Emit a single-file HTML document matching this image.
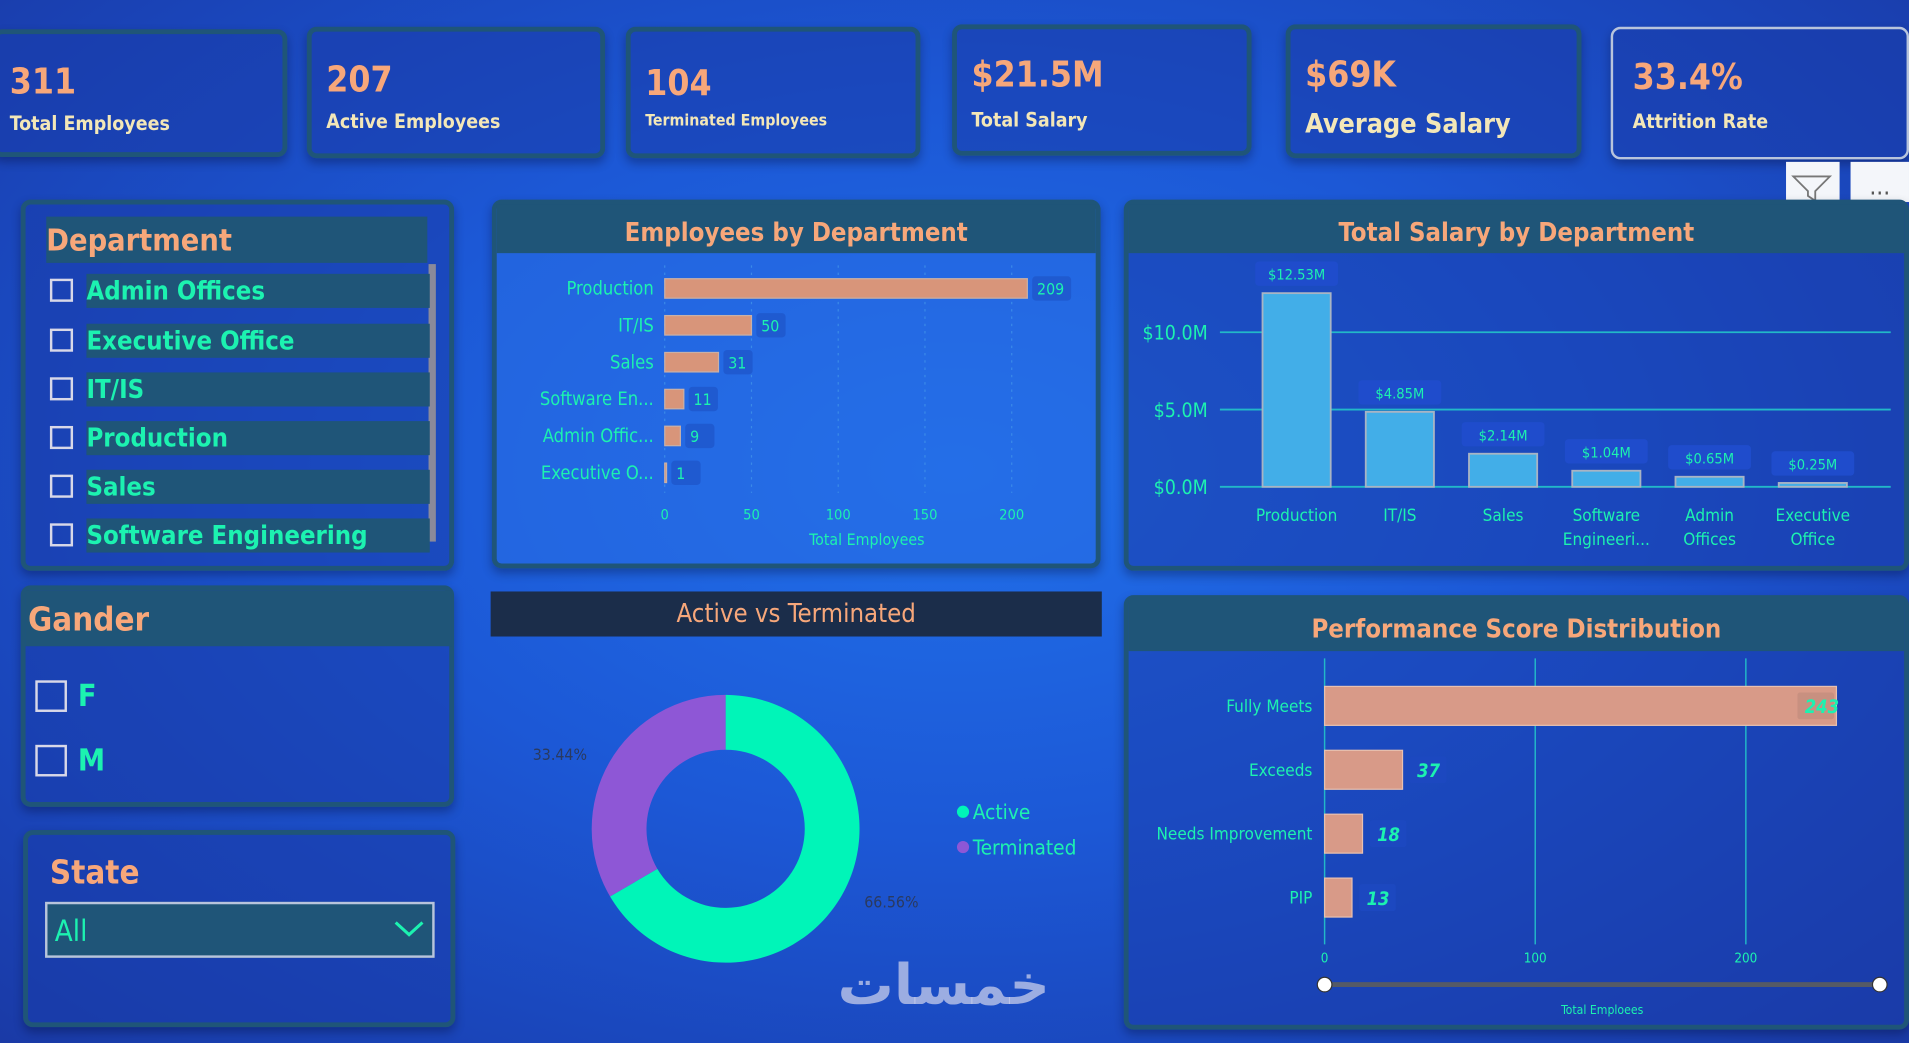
<!DOCTYPE html>
<html><head><meta charset="utf-8">
<style>
html,body{margin:0;padding:0;width:1909px;height:1043px;overflow:hidden;background:#1a48c8;}
#stage{position:absolute;left:0;top:0;width:1568px;height:857px;transform:scale(1.21747,1.21704);transform-origin:0 0;
background:radial-gradient(ellipse at 50% 45%,#2170ea 0%,#1c58d6 45%,#1a44b8 80%,#1a3aa6 100%);
font-family:"DejaVu Sans Condensed","DejaVu Sans","Liberation Sans",sans-serif;}
.card{position:absolute;border:4px solid #1f5578;border-radius:8px;background:rgba(25,60,170,0.55);box-sizing:border-box;box-shadow:0 4px 8px rgba(0,0,30,.3);}
.kv{position:absolute;left:6px;top:22px;color:#f7a77a;font-size:29px;font-weight:bold;}
.kl{position:absolute;left:6px;top:64px;color:#f3e7b8;font-size:16px;font-weight:bold;}
.hdr{position:absolute;background:#1f5578;color:#f7a77a;font-weight:bold;}
.item{position:absolute;left:20px;height:30px;width:312px;}
.cb{position:absolute;left:0;top:4px;width:19px;height:19px;border:2px solid #d8d8e8;box-sizing:border-box;}
.it{position:absolute;left:30px;top:0;right:0;height:28px;background:#1f5578;color:#1cf2b0;font-size:21px;font-weight:bold;line-height:28px;}
svg text{font-family:"DejaVu Sans Condensed","DejaVu Sans",sans-serif;}
</style></head><body>
<div id="stage">
 <div class="card" style="left:-6px;top:24px;width:242px;height:105px"><div class="kv" style="left:10px">311</div><div class="kl" style="left:10px">Total Employees</div></div>
 <div class="card" style="left:252px;top:22px;width:245px;height:108px"><div class="kv" style="left:12px">207</div><div class="kl" style="left:12px">Active Employees</div></div>
 <div class="card" style="left:514px;top:22px;width:242px;height:108px"><div class="kv" style="left:12px;top:25px">104</div><div class="kl" style="left:12px;top:66px;font-size:13px">Terminated Employees</div></div>
 <div class="card" style="left:782px;top:20px;width:246px;height:108px"><div class="kv" style="left:12px;top:20px">$21.5M</div><div class="kl" style="left:12px;top:65px">Total Salary</div></div>
 <div class="card" style="left:1056px;top:20px;width:243px;height:110px"><div class="kv" style="left:12px;top:20px">$69K</div><div class="kl" style="left:12px;top:66px;font-size:22px">Average Salary</div></div>
 <div class="card" style="left:1323px;top:22px;width:245px;height:109px;border-color:#b8c4dc;border-width:2px"><div class="kv" style="left:16px;top:22px">33.4%</div><div class="kl" style="left:16px;top:66px">Attrition Rate</div></div>
 <div style="position:absolute;left:1467px;top:133px;width:44px;height:33px;background:#f4f6fa"><svg width="44" height="33"><path d="M6 12 L36 12 L24 24 L24 32 L18 28 L18 24 Z" fill="none" stroke="#777" stroke-width="1.5"/></svg></div>
 <div style="position:absolute;left:1520px;top:133px;width:48px;height:33px;background:#f4f6fa;color:#555;font-size:20px;text-align:center;line-height:40px">...</div>

 <div class="card" style="left:17px;top:164px;width:356px;height:305px">
  <div class="hdr" style="left:17px;top:10px;width:313px;height:38px;font-size:25px;line-height:40px">Department</div>
  <div style="position:absolute;left:331px;top:49px;width:6px;height:228px;background:#8a8a9a"></div>
  <div class="item" style="top:57px"><div class="cb"></div><div class="it">Admin Offices</div></div>
  <div class="item" style="top:98px"><div class="cb"></div><div class="it">Executive Office</div></div>
  <div class="item" style="top:138px"><div class="cb"></div><div class="it">IT/IS</div></div>
  <div class="item" style="top:178px"><div class="cb"></div><div class="it">Production</div></div>
  <div class="item" style="top:218px"><div class="cb"></div><div class="it">Sales</div></div>
  <div class="item" style="top:258px"><div class="cb"></div><div class="it">Software Engineering</div></div>
 </div>
 <div class="card" style="left:17px;top:481px;width:356px;height:182px">
  <div class="hdr" style="left:0;top:0;width:348px;height:46px;font-size:27px;line-height:50px;padding-left:2px">Gander</div>
  <div style="position:absolute;left:8px;top:74px;width:26px;height:26px;border:2px solid #d8d8e8;box-sizing:border-box"></div>
  <div style="position:absolute;left:43px;top:72px;color:#1cf2b0;font-size:25px;font-weight:bold">F</div>
  <div style="position:absolute;left:8px;top:127px;width:26px;height:26px;border:2px solid #d8d8e8;box-sizing:border-box"></div>
  <div style="position:absolute;left:43px;top:125px;color:#1cf2b0;font-size:25px;font-weight:bold">M</div>
 </div>
 <div class="card" style="left:19px;top:682px;width:355px;height:162px">
  <div style="position:absolute;left:18px;top:16px;color:#f7a77a;font-size:27px;font-weight:bold">State</div>
  <div style="position:absolute;left:14px;top:55px;width:320px;height:46px;border:2px solid #b8c4dc;background:#1f5578;box-sizing:border-box">
   <span style="position:absolute;left:6px;top:8px;color:#1cf2b0;font-size:24px">All</span>
   <svg style="position:absolute;right:6px;top:12px" width="26" height="16"><path d="M2 3 L13 13 L24 3" fill="none" stroke="#1cf2b0" stroke-width="2.5"/></svg>
  </div>
 </div>

 <div class="card" style="left:404px;top:164px;width:500px;height:303px;background:rgba(40,110,230,.55)">
  <div class="hdr" style="left:0;top:0;width:492px;height:40px;font-size:21px;line-height:46px;text-align:center">Employees by Department</div>
 </div>
 <svg id="empChart" style="position:absolute;left:0;top:0" width="1568" height="857"></svg>

 <div class="card" style="left:923px;top:164px;width:645px;height:305px">
  <div class="hdr" style="left:0;top:0;width:637px;height:40px;font-size:21px;line-height:46px;text-align:center">Total Salary by Department</div>
 </div>
 <svg id="salChart" style="position:absolute;left:0;top:0" width="1568" height="857"></svg>

 <div style="position:absolute;left:403px;top:486px;width:502px;height:37px;background:#1b2d4a;color:#f7a77a;font-size:21px;text-align:center;line-height:36px">Active vs Terminated</div>
 <svg id="donut" style="position:absolute;left:0;top:0" width="1568" height="857"></svg>

 <div class="card" style="left:923px;top:489px;width:645px;height:357px;background:rgba(25,60,170,.5)">
  <div class="hdr" style="left:0;top:0;width:637px;height:42px;font-size:21px;line-height:48px;text-align:center">Performance Score Distribution</div>
 </div>
 <svg id="perfChart" style="position:absolute;left:0;top:0" width="1568" height="857"></svg>
 <div style="position:absolute;left:688px;top:782px;color:rgba(200,205,235,.75);font-size:46px;font-family:'DejaVu Sans',sans-serif;font-weight:bold">خمسات</div>
</div>
<script>
const NS='http://www.w3.org/2000/svg';
function mk(svg,tag,a,txt){const e=document.createElementNS(NS,tag);for(const k in a)e.setAttribute(k,a[k]);if(txt!==undefined)e.textContent=txt;svg.appendChild(e);return e;}

// Employees by Department
const empCats=['Production','IT/IS','Sales','Software En...','Admin Offic...','Executive O...'];
const empVals=[209,50,31,11,9,1];
const empTicks=[0,50,100,150,200];
(function(){
 const s=document.getElementById('empChart');
 const x=v=>546+v*1.425, y=i=>237+i*30.3;
 empTicks.forEach(t=>{const l=mk(s,'line',{x1:x(t),x2:x(t),y1:218,y2:405,stroke:'#3a8ae8','stroke-dasharray':'2,4'});
  
  const tx=mk(s,'text',{x:x(t),y:427,'text-anchor':'middle',fill:'#1cf2b0','font-size':12},t);
  });
 empCats.forEach((c,i)=>{
  const lb=mk(s,'text',{x:537,y:y(i)+5,'text-anchor':'end',fill:'#1cf2b0','font-size':15},c);
  
  const b=mk(s,'rect',{x:546,y:y(i)-8,width:Math.max(1.5,x(empVals[i])-546),height:16,fill:'#d8957a',stroke:'#c8b0a8','stroke-width':1});
  
  mk(s,'rect',{x:x(empVals[i])+4,y:y(i)-10,width:empVals[i]>99?32:24,height:20,fill:'#1f5ad0',rx:3});
  const v=mk(s,'text',{x:x(empVals[i])+8,y:y(i)+5,fill:'#1cf2b0','font-size':13},empVals[i]);
  
 });
 const t=mk(s,'text',{x:712,y:448,'text-anchor':'middle',fill:'#1cf2b0','font-size':13},'Total Employees');
 
})();

// Total Salary by Department
const salCats=[['Production'],['IT/IS'],['Sales'],['Software','Engineeri...'],['Admin','Offices'],['Executive','Office']];
const salVals=[12.53,4.85,2.14,1.04,0.65,0.25];
const salTicks=[0,5,10];
(function(){
 const s=document.getElementById('salChart');
 const y=v=>400-v*12.7, xc=i=>1065+i*84.8;
 salTicks.forEach(t=>{const l=mk(s,'line',{x1:1002,x2:1553,y1:y(t),y2:y(t),stroke:'#22b8c8','stroke-width':1.5});
  
  const tx=mk(s,'text',{x:992,y:y(t)+6,'text-anchor':'end',fill:'#1cf2b0','font-size':16},'$'+t.toFixed(1)+'M');
  });
 salCats.forEach((c,i)=>{
  const b=mk(s,'rect',{x:xc(i)-28,y:y(salVals[i]),width:56,height:salVals[i]*12.7,fill:'#42aee8',stroke:'#a8b4c4','stroke-width':1.5});
  
  mk(s,'rect',{x:xc(i)-34,y:y(salVals[i])-26,width:68,height:20,fill:'#1f4ccc',rx:3});
  const v=mk(s,'text',{x:xc(i),y:y(salVals[i])-11,'text-anchor':'middle',fill:'#1cf2b0','font-size':12},'$'+salVals[i].toFixed(2)+'M');
  
  c.forEach((ln,k)=>{const lb=mk(s,'text',{x:xc(i),y:428+k*20,'text-anchor':'middle',fill:'#1cf2b0','font-size':14},ln);
   });
 });
})();

// Donut
const donutCats=['Active','Terminated'];
const donutVals=[66.56,33.44];
const donutColors=['#00f5b8','#8e57d6'];
(function(){
 const s=document.getElementById('donut');
 const cx=596,cy=681,R=110,r=65;let a0=0;
 const P=(a,rad)=>[cx+rad*Math.sin(a),cy-rad*Math.cos(a)];
 const tot=donutVals.reduce((a,b)=>a+b,0);
 donutVals.forEach((v,i)=>{
  const a1=a0+v/tot*2*Math.PI,lg=(a1-a0)>Math.PI?1:0;
  const p1=P(a0,R),p2=P(a1,R),p3=P(a1,r),p4=P(a0,r);
  const d=`M${p1} A${R},${R} 0 ${lg} 1 ${p2} L${p3} A${r},${r} 0 ${lg} 0 ${p4} Z`;
  const e=mk(s,'path',{d:d,fill:donutColors[i]});
  
  const mid=(a0+a1)/2,lp=P(mid,R+12),side=Math.sin(mid)>=0;
  const t=mk(s,'text',{x:lp[0]+(side?8:-8),y:lp[1]+4,'text-anchor':side?'start':'end',fill:'#2a3a60','font-size':13},v.toFixed(2)+'%');
  
  a0=a1;
 });
 donutCats.forEach((c,i)=>{
  const d=mk(s,'circle',{cx:791,cy:667+i*29,r:5,fill:donutColors[i]});
  
  const t=mk(s,'text',{x:799,y:673+i*29,fill:'#1cf2b0','font-size':17},c);
  
 });
})();

// Performance
const perfCats=['Fully Meets','Exceeds','Needs Improvement','PIP'];
const perfVals=[243,37,18,13];
const perfTicks=[0,100,200];
(function(){
 const s=document.getElementById('perfChart');
 const x=v=>1088+v*1.73, y=i=>580+i*52.5;
 perfTicks.forEach(t=>{const l=mk(s,'line',{x1:x(t),x2:x(t),y1:541,y2:776,stroke:'#22b8c8','stroke-width':1.2});
  
  const tx=mk(s,'text',{x:x(t),y:791,'text-anchor':'middle',fill:'#1cf2b0','font-size':11},t);
  });
 perfCats.forEach((c,i)=>{
  const lb=mk(s,'text',{x:1078,y:y(i)+5,'text-anchor':'end',fill:'#1cf2b0','font-size':14},c);
  
  const b=mk(s,'rect',{x:1088,y:y(i)-16,width:x(perfVals[i])-1088,height:32,fill:'#d89a88',stroke:'#e8c0b0','stroke-width':1});
  
  const inside=perfVals[i]>200;
  const lx=inside?x(perfVals[i])-26:x(perfVals[i])+12;
  mk(s,'rect',{x:lx-6,y:y(i)-11,width:30,height:22,fill:inside?'#c89080':'#1c48c0',rx:2});
  const v=mk(s,'text',{x:lx,y:y(i)+6,fill:'#1cf2b0','font-size':15,'font-style':'italic','font-weight':'bold'},perfVals[i]);
  
 });
 const sl=mk(s,'line',{x1:1088,x2:1544,y1:809,y2:809,stroke:'#555a66','stroke-width':4});
 
 [1088,1544].forEach(px=>{const h=mk(s,'circle',{cx:px,cy:809,r:6,fill:'#fff',stroke:'#333','stroke-width':1});
  });
 const t=mk(s,'text',{x:1316,y:833,'text-anchor':'middle',fill:'#1cf2b0','font-size':10},'Total Emploees');
 
})();
</script>
</body></html>
